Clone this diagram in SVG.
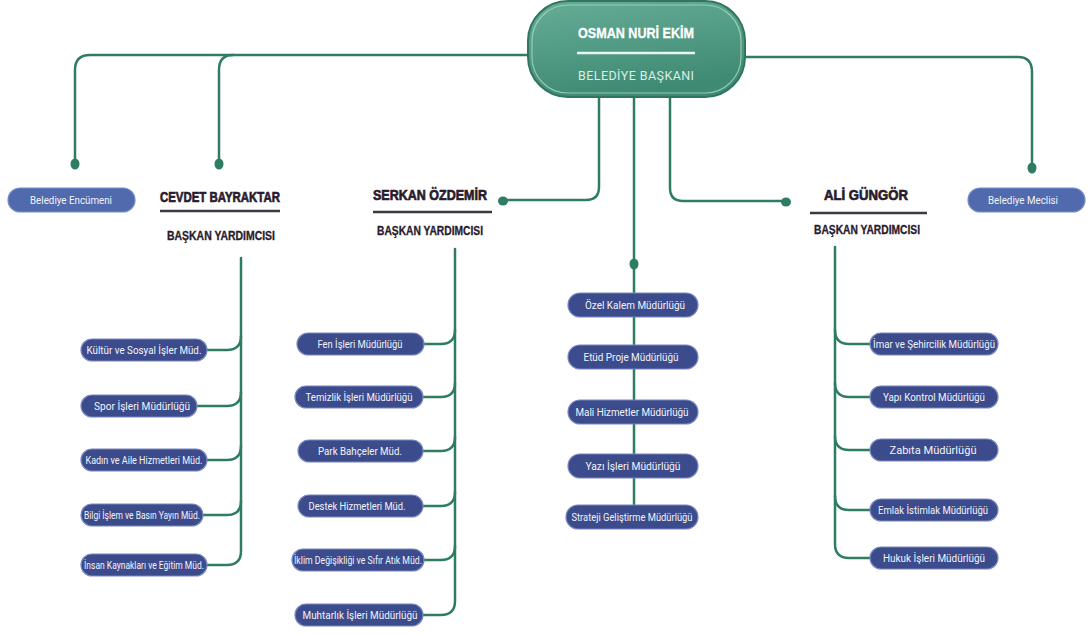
<svg xmlns="http://www.w3.org/2000/svg" width="1088" height="634" viewBox="0 0 1088 634">
<defs>
<linearGradient id="pill" x1="0" y1="0" x2="0.3" y2="1">
<stop offset="0" stop-color="#66ad96"/>
<stop offset="1" stop-color="#3f8a73"/>
</linearGradient>
<style>
.con{fill:none;stroke:#2f7d60;stroke-width:2.5;stroke-linecap:round}
.dot{fill:#2f7d60}
.box{fill:#3c4b8b;stroke:#7888c0;stroke-width:1.2}
.lbox{fill:#5169ad;stroke:#7a8cc8;stroke-width:1.2}
.bt{font-family:"Roboto","Liberation Sans",sans-serif;font-size:11px;fill:#f2f4fb;text-anchor:middle}
.hd{font-family:"Liberation Sans","Roboto",sans-serif;font-weight:700;font-size:15px;fill:#2a1b2d;stroke:#2a1b2d;stroke-width:0.7;text-anchor:middle}
.sub{font-family:"Liberation Sans","Roboto",sans-serif;font-weight:700;font-size:12px;fill:#2a1b2d;stroke:#2a1b2d;stroke-width:0.3;text-anchor:middle}
.hl{stroke:#3a3a42;stroke-width:2.5}
</style>
</defs>
<rect width="1088" height="634" fill="#ffffff"/>

<g id="connectors">
<path class="con" d="M530,55 H90 Q75,55 75,70 V160"/>
<ellipse class="dot" cx="75" cy="164" rx="4.5" ry="5.5"/>
<path class="con" d="M233,55 Q219,55 219,70 V160"/>
<ellipse class="dot" cx="219" cy="164" rx="4.5" ry="5.5"/>
<path class="con" d="M744,57 H1018 Q1032,57 1032,72 V164"/>
<ellipse class="dot" cx="1032" cy="168" rx="4.5" ry="5.5"/>
<path class="con" d="M599,97 V187 Q599,200 586,200 H506"/>
<ellipse class="dot" cx="503" cy="201" rx="5" ry="4.5"/>
<path class="con" d="M670,97 V188 Q670,201 683,201 H783"/>
<ellipse class="dot" cx="786" cy="202" rx="5" ry="4.5"/>
<path class="con" d="M634,97 V505"/>
<ellipse class="dot" cx="634" cy="264" rx="4.5" ry="5.5"/>
<!-- Cevdet column -->
<path class="con" d="M241,258 V551 Q241,565 227,565 H207"/>
<path class="con" d="M241,336 Q241,350 227,350 H207"/>
<path class="con" d="M241,392 Q241,406 227,406 H197"/>
<path class="con" d="M241,446 Q241,460 227,460 H207"/>
<path class="con" d="M241,501 Q241,515 227,515 H203"/>
<!-- Serkan column -->
<path class="con" d="M455,249 V601 Q455,615 441,615 H423"/>
<path class="con" d="M455,330 Q455,344 441,344 H424"/>
<path class="con" d="M455,383 Q455,397 441,397 H423"/>
<path class="con" d="M455,437 Q455,451 441,451 H423"/>
<path class="con" d="M455,492 Q455,506 441,506 H423"/>
<path class="con" d="M455,546 Q455,560 441,560 H424"/>
<!-- Ali column -->
<path class="con" d="M835,247 V544 Q835,558 849,558 H870"/>
<path class="con" d="M835,330 Q835,344 849,344 H870"/>
<path class="con" d="M835,383 Q835,397 849,397 H870"/>
<path class="con" d="M835,436 Q835,450 849,450 H870"/>
<path class="con" d="M835,496 Q835,510 849,510 H870"/>
</g>

<g id="baskan">
<rect x="528" y="1" width="217" height="96" rx="40" fill="url(#pill)" stroke="#2f7560" stroke-width="2"/>
<rect x="532" y="5" width="209" height="88" rx="36" fill="none" stroke="#a8d6c6" stroke-width="1.2" opacity="0.8"/>
<text x="636" y="38" font-family="'Liberation Sans', Roboto, sans-serif" font-weight="700" font-size="15" fill="#ffffff" stroke="#ffffff" stroke-width="0.3" text-anchor="middle" textLength="116" lengthAdjust="spacingAndGlyphs">OSMAN NURİ EKİM</text>
<line x1="577" y1="53" x2="695" y2="53" stroke="#e8f5ef" stroke-width="2.5"/>
<text x="636" y="80" font-family="Roboto, 'Liberation Sans', sans-serif" font-size="12.5" fill="#d9efe7" text-anchor="middle" textLength="116" lengthAdjust="spacing">BELEDİYE BAŞKANI</text>
</g>

<g id="encumen">
<rect class="lbox" x="8" y="188" width="127" height="24" rx="12"/>
<text class="bt" x="71" y="204" textLength="82" lengthAdjust="spacingAndGlyphs">Belediye Encümeni</text>
</g>
<g id="meclis">
<rect class="lbox" x="968" y="188" width="117" height="24" rx="12"/>
<text class="bt" x="1023" y="204" textLength="70" lengthAdjust="spacingAndGlyphs">Belediye Meclisi</text>
</g>

<g id="cevdet">
<text class="hd" x="220" y="202" textLength="120" lengthAdjust="spacingAndGlyphs">CEVDET BAYRAKTAR</text>
<line class="hl" x1="160" y1="211" x2="280" y2="211"/>
<text class="sub" x="221" y="240" textLength="108" lengthAdjust="spacingAndGlyphs">BAŞKAN YARDIMCISI</text>
</g>
<g id="serkan">
<text class="hd" x="430" y="200" textLength="114" lengthAdjust="spacingAndGlyphs">SERKAN ÖZDEMİR</text>
<line class="hl" x1="373" y1="212" x2="492" y2="212"/>
<text class="sub" x="430" y="235" textLength="106" lengthAdjust="spacingAndGlyphs">BAŞKAN YARDIMCISI</text>
</g>
<g id="ali">
<text class="hd" x="866" y="200" textLength="84" lengthAdjust="spacingAndGlyphs">ALİ GÜNGÖR</text>
<line class="hl" x1="810" y1="213" x2="927" y2="213"/>
<text class="sub" x="867" y="234" textLength="106" lengthAdjust="spacingAndGlyphs">BAŞKAN YARDIMCISI</text>
</g>

<g id="kultur"><rect class="box" x="81" y="339" width="126" height="22" rx="11"/><text class="bt" x="144" y="354" textLength="115" lengthAdjust="spacingAndGlyphs">Kültür ve Sosyal İşler Müd.</text></g>
<g id="spor"><rect class="box" x="81" y="395" width="116" height="22" rx="11"/><text class="bt" x="142" y="410" textLength="96" lengthAdjust="spacingAndGlyphs">Spor İşleri Müdürlüğü</text></g>
<g id="kadin"><rect class="box" x="81" y="449" width="126" height="22" rx="11"/><text class="bt" x="144" y="464" textLength="117" lengthAdjust="spacingAndGlyphs">Kadın ve Aile Hizmetleri Müd.</text></g>
<g id="bilgi"><rect class="box" x="81" y="504" width="122" height="22" rx="11"/><text class="bt" x="142" y="519" textLength="116" lengthAdjust="spacingAndGlyphs">Bilgi İşlem ve Basın Yayın Müd.</text></g>
<g id="insan"><rect class="box" x="81" y="554" width="126" height="22" rx="11"/><text class="bt" x="144" y="569" textLength="120" lengthAdjust="spacingAndGlyphs">İnsan Kaynakları ve Eğitim Müd.</text></g>

<g id="fen"><rect class="box" x="297" y="333" width="127" height="22" rx="11"/><text class="bt" x="360" y="348" textLength="85" lengthAdjust="spacingAndGlyphs">Fen İşleri Müdürlüğü</text></g>
<g id="temizlik"><rect class="box" x="295" y="386" width="128" height="22" rx="11"/><text class="bt" x="359" y="401" textLength="107" lengthAdjust="spacingAndGlyphs">Temizlik İşleri Müdürlüğü</text></g>
<g id="park"><rect class="box" x="298" y="440" width="125" height="22" rx="11"/><text class="bt" x="360" y="455" textLength="84" lengthAdjust="spacingAndGlyphs">Park Bahçeler Müd.</text></g>
<g id="destek"><rect class="box" x="298" y="495" width="125" height="22" rx="11"/><text class="bt" x="357" y="510" textLength="97" lengthAdjust="spacingAndGlyphs">Destek Hizmetleri Müd.</text></g>
<g id="iklim"><rect class="box" x="292" y="549" width="132" height="22" rx="11"/><text class="bt" x="358" y="564" textLength="128" lengthAdjust="spacingAndGlyphs">İklim Değişikliği ve Sıfır Atık Müd.</text></g>
<g id="muhtarlik"><rect class="box" x="295" y="604" width="128" height="22" rx="11"/><text class="bt" x="360" y="619" textLength="115" lengthAdjust="spacingAndGlyphs">Muhtarlık İşleri Müdürlüğü</text></g>

<g id="ozel"><rect class="box" x="568" y="293" width="130" height="24" rx="12"/><text class="bt" x="635" y="309" textLength="100" lengthAdjust="spacingAndGlyphs">Özel Kalem Müdürlüğü</text></g>
<g id="etud"><rect class="box" x="568" y="345" width="130" height="24" rx="12"/><text class="bt" x="631" y="361" textLength="95" lengthAdjust="spacingAndGlyphs">Etüd Proje Müdürlüğü</text></g>
<g id="mali"><rect class="box" x="568" y="400" width="130" height="24" rx="12"/><text class="bt" x="632" y="416" textLength="113" lengthAdjust="spacingAndGlyphs">Mali Hizmetler Müdürlüğü</text></g>
<g id="yazi"><rect class="box" x="568" y="454" width="130" height="24" rx="12"/><text class="bt" x="633" y="470" textLength="95" lengthAdjust="spacingAndGlyphs">Yazı İşleri Müdürlüğü</text></g>
<g id="strateji"><rect class="box" x="566" y="505" width="132" height="24" rx="12"/><text class="bt" x="632" y="521" textLength="121" lengthAdjust="spacingAndGlyphs">Strateji Geliştirme Müdürlüğü</text></g>

<g id="imar"><rect class="box" x="870" y="333" width="128" height="22" rx="11"/><text class="bt" x="934" y="348" textLength="122" lengthAdjust="spacingAndGlyphs">İmar ve Şehircilik Müdürlüğü</text></g>
<g id="yapi"><rect class="box" x="870" y="386" width="128" height="22" rx="11"/><text class="bt" x="934" y="401" textLength="102" lengthAdjust="spacingAndGlyphs">Yapı Kontrol Müdürlüğü</text></g>
<g id="zabita"><rect class="box" x="870" y="439" width="128" height="22" rx="11"/><text class="bt" x="933" y="454" textLength="87" lengthAdjust="spacingAndGlyphs">Zabıta Müdürlüğü</text></g>
<g id="emlak"><rect class="box" x="870" y="499" width="128" height="22" rx="11"/><text class="bt" x="933" y="514" textLength="110" lengthAdjust="spacingAndGlyphs">Emlak İstimlak Müdürlüğü</text></g>
<g id="hukuk"><rect class="box" x="870" y="547" width="128" height="22" rx="11"/><text class="bt" x="934" y="562" textLength="102" lengthAdjust="spacingAndGlyphs">Hukuk İşleri Müdürlüğü</text></g>
</svg>
